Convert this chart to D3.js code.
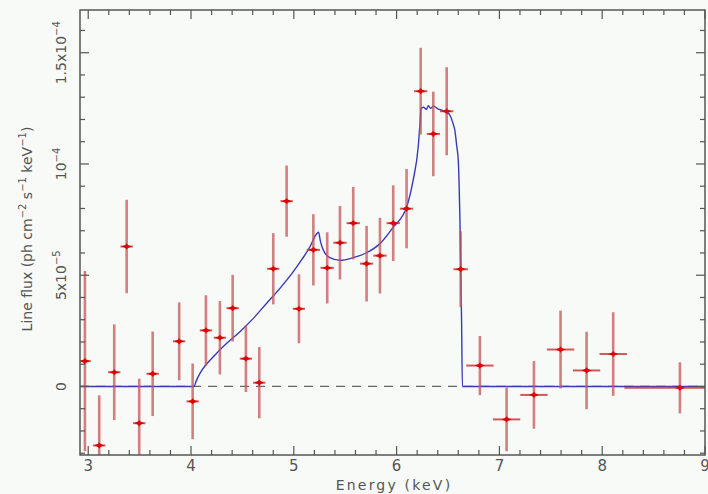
<!DOCTYPE html>
<html>
<head>
<meta charset="utf-8">
<script src="https://cdn.jsdelivr.net/npm/d3@7"></script>
<style>
  body { margin: 0; background: #f7faf6; }
  svg { display: block; }
  text { font-family: "DejaVu Sans", sans-serif; fill: #555; }
</style>
</head>
<body>
<svg id="chart" width="708" height="494"></svg>
<script>
/* data binned spectrum, flux in units of 1e-6 ph cm^-2 s^-1 keV^-1 */
var energy = [2.968, 3.107, 3.253, 3.374, 3.496, 3.627, 3.885, 4.016, 4.145, 4.281, 4.405, 4.534,
  4.664, 4.800, 4.930, 5.050, 5.190, 5.325, 5.449, 5.578, 5.708, 5.838, 5.967, 6.097, 6.234,
  6.357, 6.487, 6.623, 6.810, 7.070, 7.336, 7.595, 7.848, 8.107, 8.756];
var halfWidth = [0.057, 0.06, 0.06, 0.06, 0.06, 0.06, 0.06, 0.06, 0.06, 0.06, 0.06, 0.06,
  0.06, 0.06, 0.06, 0.06, 0.065, 0.065, 0.065, 0.065, 0.065, 0.065, 0.065, 0.065, 0.065,
  0.065, 0.065, 0.07, 0.133, 0.133, 0.133, 0.133, 0.133, 0.133, 0.54];
var flux = [11.4, -26.5, 6.4, 62.9, -16.5, 5.7, 20.3, -6.7, 25.2, 21.9, 35.2, 12.5,
  1.7, 52.9, 83.3, 34.9, 61.4, 53.3, 64.6, 73.4, 55.2, 58.8, 73.4, 79.9, 132.7,
  113.5, 123.7, 52.7, 9.4, -14.8, -3.8, 16.6, 7.2, 14.6, -0.6];
var fluxErr = [40.5, 22.5, 21.5, 21, 20, 19, 17.5, 17, 15.8, 16.5, 15, 15,
  16, 16, 16, 15.5, 16, 16, 16.5, 16.3, 17, 17, 17, 17.8, 19.5,
  19, 19.8, 17, 13.3, 14.3, 15.2, 17.5, 17.4, 18.8, 11.5];

/* model line profile */
var modelE = [2.92, 4.03, 4.05, 4.087, 4.15, 4.217, 4.347, 4.476, 4.606, 4.736, 4.865, 4.995, 5.08, 5.157,
  5.19, 5.22, 5.24, 5.26, 5.29, 5.35, 5.45, 5.578, 5.708, 5.838, 5.967, 6.097, 6.16, 6.21,
  6.23, 6.237, 6.26, 6.29, 6.31, 6.33, 6.36, 6.4, 6.45, 6.49, 6.52, 6.55, 6.567, 6.585,
  6.6, 6.616, 6.632, 6.64, 9.0];
var modelFlux = [0, 0, 2.4, 5.9, 10, 13.4, 19.4, 24.6, 30.6, 37.4, 44.1, 51.6, 57.2, 62.8,
  66, 68.5, 69.3, 65, 61, 57.9, 56.7, 57.9, 60.1, 64.2, 71.6, 80.6, 92.5, 107.6,
  120, 124.8, 125.5, 124.6, 126.2, 125, 126, 124.8, 124, 123.3, 121.8, 118, 115, 108,
  101.6, 74.7, 29.7, 0, 0];

var xTicks = [3, 4, 5, 6, 7, 8, 9];
var yTicks = [0, 50, 100, 150];
var yTickLabels = [["0", ""], ["5x10", "\u22125"], ["10", "\u22124"], ["1.5x10", "\u22124"]];

var mLeft = 80, mRight = 705, mTop = 10, mBottom = 455;

var svg = d3.select("#chart");
var x = d3.scaleLinear().domain([2.92, 9.0]).range([mLeft, mRight]);
var y = d3.scaleLinear().domain([-30.8, 169.2]).range([mBottom, mTop]);

svg.append("defs").append("clipPath").attr("id", "plotclip")
  .append("rect").attr("x", mLeft).attr("y", mTop).attr("width", mRight - mLeft).attr("height", mBottom - mTop);

var plot = svg.append("g").attr("clip-path", "url(#plotclip)");

// zero reference line
plot.append("line").attr("x1", mLeft).attr("x2", mRight).attr("y1", y(0)).attr("y2", y(0))
  .attr("stroke", "#666").attr("stroke-width", 1.2).attr("stroke-dasharray", "9,7");

// model curve
var modelPts = modelE.map(function(e, i) { return [e, modelFlux[i]]; });
plot.append("path").datum(modelPts)
  .attr("d", d3.line().x(function(d) { return x(d[0]); }).y(function(d) { return y(d[1]); }).curve(d3.curveMonotoneX))
  .attr("fill", "none").attr("stroke", "#3a3ab8").attr("stroke-width", 1.4);

// data points with error bars
var pts = energy.map(function(e, i) { return { e: e, dE: halfWidth[i], f: flux[i], err: fluxErr[i] }; });
var g = plot.selectAll("g.pt").data(pts).enter().append("g").attr("class", "pt");
g.append("line")
  .attr("x1", function(d) { return x(d.e); }).attr("x2", function(d) { return x(d.e); })
  .attr("y1", function(d) { return y(d.f - d.err); }).attr("y2", function(d) { return y(d.f + d.err); })
  .attr("stroke", "#c4555a").attr("stroke-opacity", 0.75).attr("stroke-width", 2.6);
g.append("line")
  .attr("x1", function(d) { return x(d.e - d.dE); }).attr("x2", function(d) { return x(d.e + d.dE); })
  .attr("y1", function(d) { return y(d.f); }).attr("y2", function(d) { return y(d.f); })
  .attr("stroke", "#c83c40").attr("stroke-opacity", 0.85).attr("stroke-width", 2);
g.append("path")
  .attr("transform", function(d) { return "translate(" + x(d.e) + "," + y(d.f) + ")"; })
  .attr("d", "M-5,0L-1.2,-1.6L0,-3.2L1.2,-1.6L5,0L1.2,1.6L0,3.2L-1.2,1.6Z")
  .attr("fill", "#e00000");

// frame
svg.append("rect").attr("x", mLeft).attr("y", mTop).attr("width", mRight - mLeft).attr("height", mBottom - mTop)
  .attr("fill", "none").attr("stroke", "#555").attr("stroke-width", 1.5);

// ticks on all four sides, pointing inward
var xMinor = d3.range(3, 9.01, 0.2);
var yMinor = d3.range(-30, 166, 10);
var axes = svg.append("g").attr("stroke", "#555").attr("stroke-width", 1.2);
function tickLen(v, step) { return Math.abs(v / step - Math.round(v / step)) < 1e-6 ? 9 : 5; }
xMinor.forEach(function(v) {
  var L = tickLen(v, 1), px = x(v);
  axes.append("line").attr("x1", px).attr("x2", px).attr("y1", mBottom).attr("y2", mBottom - L);
  axes.append("line").attr("x1", px).attr("x2", px).attr("y1", mTop).attr("y2", mTop + L);
});
yMinor.forEach(function(v) {
  var L = tickLen(v, 50), py = y(v);
  axes.append("line").attr("y1", py).attr("y2", py).attr("x1", mLeft).attr("x2", mLeft + L);
  axes.append("line").attr("y1", py).attr("y2", py).attr("x1", mRight).attr("x2", mRight - L);
});

// x tick labels
svg.selectAll("text.xt").data(xTicks).enter().append("text").attr("class", "xt")
  .attr("x", function(d) { return x(d); }).attr("y", 471)
  .attr("text-anchor", "middle").attr("font-size", 15).text(function(d) { return d; });

svg.append("text").attr("x", 394).attr("y", 490).attr("text-anchor", "middle")
  .attr("font-size", 14).attr("letter-spacing", 2.2).text("Energy (keV)");

// y tick labels, rotated
yTicks.forEach(function(v, i) {
  var t = svg.append("text").attr("text-anchor", "middle").attr("font-size", 14)
    .attr("transform", "translate(66," + y(v) + ") rotate(-90)");
  t.append("tspan").text(yTickLabels[i][0]);
  if (yTickLabels[i][1]) t.append("tspan").attr("dy", -6).attr("font-size", 10).text(yTickLabels[i][1]);
});

// y axis title
var yl = svg.append("text").attr("text-anchor", "middle").attr("font-size", 14)
  .attr("transform", "translate(32,229) rotate(-90)");
var parts = [["Line flux (ph cm", 0], ["\u22122", 1], [" s", 0], ["\u22121", 1], [" keV", 0], ["\u22121", 1], [")", 0]];
var prevSup = 0;
parts.forEach(function(p) {
  var ts = yl.append("tspan").text(p[0]);
  if (p[1] && !prevSup) ts.attr("dy", -6).attr("font-size", 10);
  if (!p[1] && prevSup) ts.attr("dy", 6);
  prevSup = p[1];
});
</script>
</body>
</html>
